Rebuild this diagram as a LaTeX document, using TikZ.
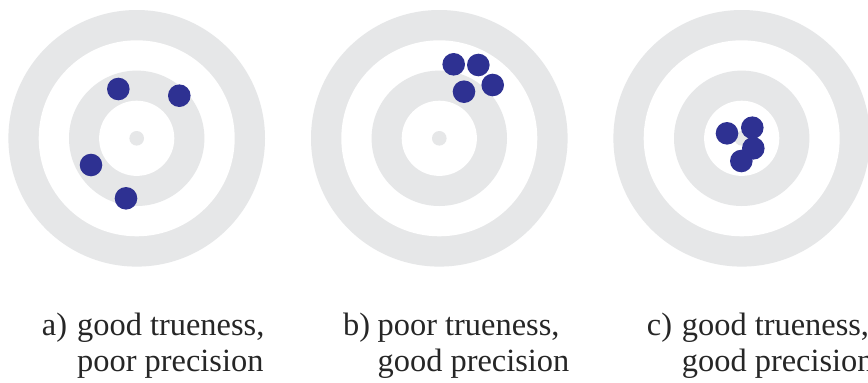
\documentclass[tikz,border=0pt]{standalone}
\usepackage{fontspec}
\setmainfont{Liberation Serif}
\definecolor{ringgray}{HTML}{E6E7E8}
\definecolor{shotblue}{HTML}{2E3192}
\begin{document}
\begin{tikzpicture}[x=1pt,y=-1pt,
  ring/.style={fill=ringgray},
  hole/.style={fill=white},
  shot/.style={fill=shotblue},
  lbl/.style={anchor=base west,inner sep=0pt,font=\fontsize{32.4}{36}\selectfont,text=black!85}]
\useasboundingbox (0,0) rectangle (868,383);
\fill[white] (0,0) rectangle (868,383);
% targets
\foreach \cx in {136.7,439.3,741.7}{
  \fill[ring] (\cx,138.3) circle (128.3);
  \fill[hole] (\cx,138.3) circle (98);
  \fill[ring] (\cx,138.3) circle (67.7);
  \fill[hole] (\cx,138.3) circle (37.6);
  \fill[ring] (\cx,138.3) circle (7.3);
}
% shots
\foreach \p in {(118.3,89),(179.3,95.7),(91,165),(126,198.3),
                (453.7,64.3),(478.3,65),(492.7,85),(464,91.7),
                (727,133.3),(752.3,127.7),(753.3,148.3),(741.3,161)}{
  \fill[shot] \p circle (11.3);
}
% labels
\node[lbl] (la)  at (41.7,335.5) {a)};
\node[lbl] (la1) at (77,335.5) {good trueness,};
\node[lbl] (la2) at (77,371.5) {poor precision};
\node[lbl] (lb)  at (343,335.5) {b)};
\node[lbl] (lb1) at (377.5,335.5) {poor trueness,};
\node[lbl] (lb2) at (377.5,371.5) {good precision};
\node[lbl] (lc)  at (646.7,335.5) {c)};
\node[lbl] (lc1) at (681.7,335.5) {good trueness,};
\node[lbl] (lc2) at (681.7,371.5) {good precision};
\end{tikzpicture}
\end{document}
